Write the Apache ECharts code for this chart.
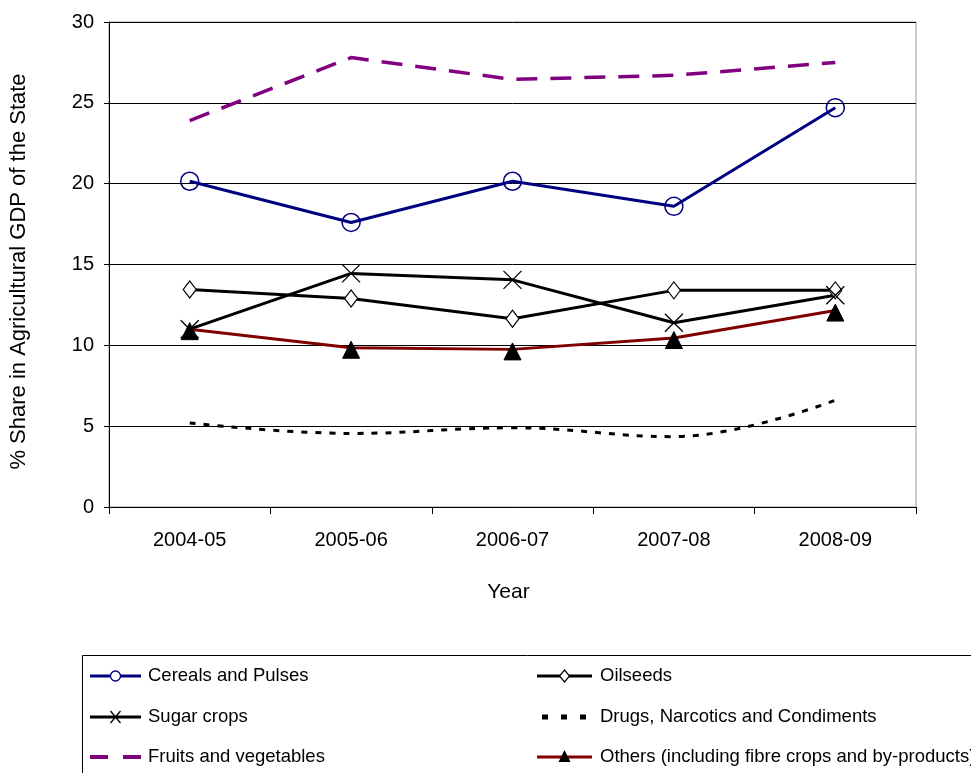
<!DOCTYPE html>
<html>
<head>
<meta charset="utf-8">
<script src="https://cdn.jsdelivr.net/npm/echarts@6/dist/echarts.min.js"></script>
<style>
  html, body { margin: 0; padding: 0; background: #fff; }
  #main { width: 971px; height: 773px; }
</style>
</head>
<body>
<div id="main"></div>
<script>
const years = ['2004-05', '2005-06', '2006-07', '2007-08', '2008-09'];
const cereals = [20.15, 17.6, 20.15, 18.6, 24.7];
const oilseeds = [13.45, 12.9, 11.65, 13.4, 13.4];
const sugar = [11.0, 14.45, 14.05, 11.4, 13.1];
const drugs = [5.2, 4.55, 4.9, 4.35, 6.6];
const fruits = [23.9, 27.8, 26.45, 26.7, 27.5];
const others = [11.0, 9.85, 9.75, 10.45, 12.15];

const names = [
  'Cereals and Pulses', 'Oilseeds', 'Sugar crops',
  'Drugs, Narcotics and Condiments', 'Fruits and vegetables',
  'Others (including fibre crops and by-products)'
];

const font = 'Liberation Sans, Arial, sans-serif';
const crossPath = 'M0,0L10,10M10,0L0,10';

// legend drawn by hand: two columns, three rows
function legendGraphics() {
  const cols = [{ x0: 90, x1: 141, tx: 148 }, { x0: 537, x1: 592, tx: 600 }];
  const rows = [676, 717, 757];
  const g = [];
  names.forEach(function (name, i) {
    const c = cols[i % 2], y = rows[Math.floor(i / 2)];
    const mid = (c.x0 + c.x1) / 2;
    if (i === 0) {
      g.push({ type: 'line', shape: { x1: c.x0, y1: y, x2: c.x1, y2: y }, style: { stroke: '#000080', lineWidth: 3 } });
      g.push({ type: 'circle', shape: { cx: mid, cy: y, r: 5 }, style: { fill: '#fff', stroke: '#000080', lineWidth: 1.3 } });
    } else if (i === 1) {
      g.push({ type: 'line', shape: { x1: c.x0, y1: y, x2: c.x1, y2: y }, style: { stroke: '#000', lineWidth: 3 } });
      g.push({ type: 'polygon', shape: { points: [[mid, y - 6], [mid + 5, y], [mid, y + 6], [mid - 5, y]] }, style: { fill: '#fff', stroke: '#000', lineWidth: 1.2 } });
    } else if (i === 2) {
      g.push({ type: 'line', shape: { x1: c.x0, y1: y, x2: c.x1, y2: y }, style: { stroke: '#000', lineWidth: 3 } });
      g.push({ type: 'line', shape: { x1: mid - 5, y1: y - 6, x2: mid + 5, y2: y + 6 }, style: { stroke: '#000', lineWidth: 1.3 } });
      g.push({ type: 'line', shape: { x1: mid + 5, y1: y - 6, x2: mid - 5, y2: y + 6 }, style: { stroke: '#000', lineWidth: 1.3 } });
    } else if (i === 3) {
      [0, 19, 38].forEach(function (dx) {
        g.push({ type: 'rect', shape: { x: c.x0 + 5 + dx, y: y - 2.5, width: 6, height: 5 }, style: { fill: '#000' } });
      });
    } else if (i === 4) {
      g.push({ type: 'line', shape: { x1: c.x0, y1: y, x2: c.x0 + 18, y2: y }, style: { stroke: '#800080', lineWidth: 4 } });
      g.push({ type: 'line', shape: { x1: c.x0 + 33, y1: y, x2: c.x1, y2: y }, style: { stroke: '#800080', lineWidth: 4 } });
    } else {
      g.push({ type: 'line', shape: { x1: c.x0, y1: y, x2: c.x1, y2: y }, style: { stroke: '#800000', lineWidth: 3 } });
      g.push({ type: 'polygon', shape: { points: [[mid, y - 7], [mid + 6, y + 5], [mid - 6, y + 5]] }, style: { fill: '#000' } });
    }
    g.push({
      type: 'text', x: c.tx, y: y,
      style: { text: name, fill: '#000', font: '18.5px ' + font, verticalAlign: 'middle' }
    });
  });
  g.push({
    type: 'rect',
    shape: { x: 82.5, y: 655.5, width: 900, height: 130 },
    style: { fill: 'none', stroke: '#000', lineWidth: 1 }
  });
  return g;
}

let chart = echarts.init(document.getElementById('main'));

let option = {
  animation: false,
  textStyle: { fontFamily: font },
  grid: {
    left: 107, right: 55, top: 22, bottom: 266,
    show: true, borderColor: '#999', borderWidth: 1
  },
  xAxis: {
    type: 'category',
    data: years,
    name: 'Year',
    nameLocation: 'middle',
    nameGap: 75,
    nameTextStyle: { fontSize: 21, color: '#000', fontFamily: font, padding: [0, 8, 0, 0] },
    axisLine: { lineStyle: { color: '#000', width: 1 } },
    axisTick: { show: true, length: 7, lineStyle: { color: '#000' } },
    axisLabel: { fontSize: 20, color: '#000', margin: 23, fontFamily: font }
  },
  yAxis: {
    type: 'value',
    min: 0, max: 30, interval: 5,
    name: '% Share in Agricultural GDP of the State',
    nameLocation: 'middle',
    nameGap: 79,
    nameTextStyle: { fontSize: 22, color: '#000', fontFamily: font, padding: [0, 14, 0, 0] },
    axisLine: { show: true, lineStyle: { color: '#000', width: 1 } },
    axisTick: { show: true, length: 5, lineStyle: { color: '#000' } },
    axisLabel: { fontSize: 20, color: '#000', margin: 15, fontFamily: font },
    splitLine: { lineStyle: { color: '#000', width: 1 } }
  },
  graphic: legendGraphics(),
  series: [
    {
      name: names[0],
      type: 'line',
      data: cereals,
      symbol: 'circle',
      symbolSize: 18,
      lineStyle: { color: '#000080', width: 3 },
      itemStyle: { color: 'rgba(255,255,255,0)', borderColor: '#000080', borderWidth: 1.5 },
      z: 5
    },
    {
      name: names[1],
      type: 'line',
      data: oilseeds,
      symbol: 'diamond',
      symbolSize: [13, 17],
      lineStyle: { color: '#000', width: 3 },
      itemStyle: { color: '#fff', borderColor: '#000', borderWidth: 1.2 }
    },
    {
      name: names[2],
      type: 'line',
      data: sugar,
      symbol: 'path://' + crossPath,
      symbolSize: 18,
      lineStyle: { color: '#000', width: 3 },
      itemStyle: { color: 'rgba(0,0,0,0)', borderColor: '#000', borderWidth: 1.3 }
    },
    {
      name: names[3],
      type: 'line',
      data: drugs,
      smooth: 0.4,
      symbol: 'none',
      lineStyle: { color: '#000', width: 3, type: [6, 8] }
    },
    {
      name: names[4],
      type: 'line',
      data: fruits,
      symbol: 'none',
      lineStyle: { color: '#800080', width: 3.5, type: [21, 13] }
    },
    {
      name: names[5],
      type: 'line',
      data: others,
      symbol: 'triangle',
      symbolSize: [17, 17],
      symbolOffset: [0, 2],
      lineStyle: { color: '#800000', width: 3 },
      itemStyle: { color: '#000', borderColor: '#000' },
      z: 6
    }
  ]
};

chart.setOption(option);
</script>
</body>
</html>
